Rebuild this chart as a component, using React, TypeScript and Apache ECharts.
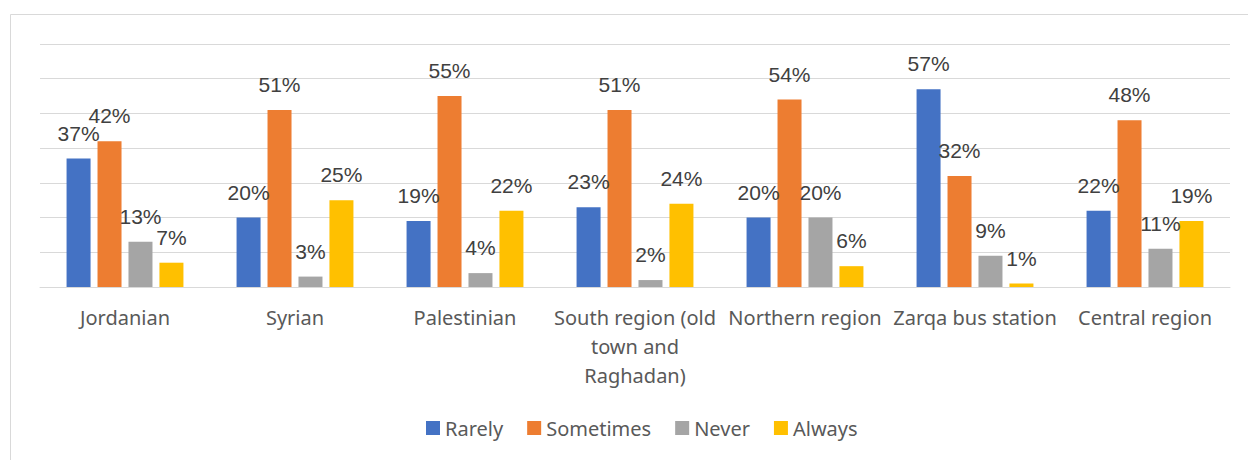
import React, { useEffect, useRef } from "react";
import * as echarts from "echarts";

const categories = [
  "Jordanian",
  "Syrian",
  "Palestinian",
  "South region (old town and Raghadan)",
  "Northern region",
  "Zarqa bus station",
  "Central region",
];
const rarely = [37, 20, 19, 23, 20, 57, 22];
const sometimes = [42, 51, 55, 51, 54, 32, 48];
const never = [13, 3, 4, 2, 20, 9, 11];
const always = [7, 25, 22, 24, 6, 1, 19];

const seriesNames = ["Rarely", "Sometimes", "Never", "Always"];
const seriesColors = ["#4472C4", "#ED7D31", "#A5A5A5", "#FFC000"];

const wrappedLabels: Record<string, string> = {
  "South region (old town and Raghadan)": "South region (old\ntown and\nRaghadan)",
};

export default function App() {
  const ref = useRef<HTMLDivElement>(null);
  useEffect(() => {
    if (!ref.current) return;
    const chart = echarts.init(ref.current, undefined, { renderer: "svg" });
    const data = [rarely, sometimes, never, always];
    chart.setOption({
      animation: false,
      backgroundColor: "#ffffff",
      graphic: [
        {
          type: "rect",
          shape: { x: 10.5, y: 14.5, width: 1240, height: 460 },
          style: { fill: "none", stroke: "#D9D9D9", lineWidth: 1 },
          silent: true,
        },
      ],
      grid: { left: 40, right: 18, top: 44, bottom: 173 },
      legend: {
        left: 421,
        top: 413,
        itemWidth: 14,
        itemHeight: 14,
        itemGap: 24,
        itemTextGap: 6,
        icon: "rect",
        textStyle: { fontFamily: "Noto Sans", fontSize: 20, color: "#595959" },
        data: seriesNames,
      },
      xAxis: {
        type: "category",
        data: categories,
        axisLine: { lineStyle: { color: "#D9D9D9", width: 1 } },
        axisTick: { show: false },
        axisLabel: {
          interval: 0,
          margin: 16,
          fontFamily: "Noto Sans",
          fontSize: 20,
          color: "#595959",
          lineHeight: 29,
          formatter: (v: string) => wrappedLabels[v] ?? v,
        },
      },
      yAxis: {
        type: "value",
        min: 0,
        max: 70,
        interval: 10,
        axisLabel: { show: false },
        axisLine: { show: false },
        axisTick: { show: false },
        splitLine: { lineStyle: { color: "#D9D9D9", width: 1 } },
      },
      series: seriesNames.map((name, i) => ({
        name,
        type: "bar",
        data: data[i],
        barWidth: 24,
        barGap: "29%",
        itemStyle: { color: seriesColors[i] },
        label: {
          show: true,
          position: "top",
          distance: 15,
          formatter: "{c}%",
          fontFamily: "Liberation Sans",
          fontSize: 21,
          color: "#404040",
        },
      })),
    });
    return () => chart.dispose();
  }, []);
  return (
    <div
      ref={ref}
      style={{ position: "fixed", left: 0, top: 0, width: 1248, height: 460 }}
    />
  );
}
